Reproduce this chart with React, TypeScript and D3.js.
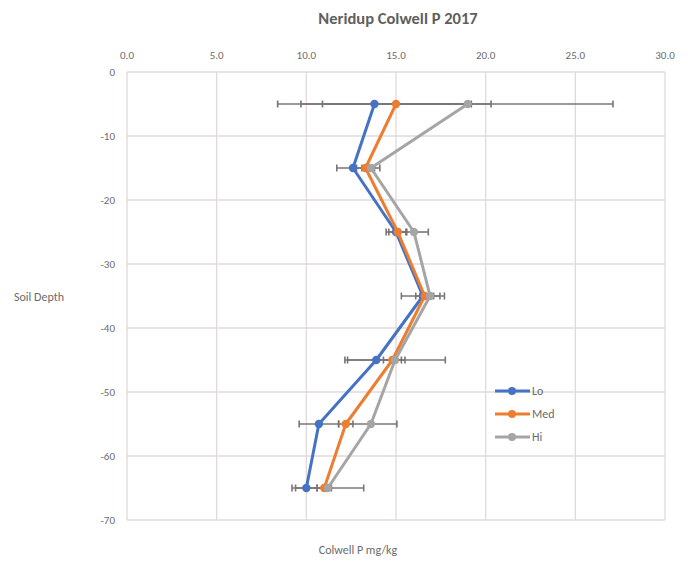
import React from "react";
import * as d3 from "d3";

// Soil depth (cm, negative downward) for each sampling layer
const depths = [-5, -15, -25, -35, -45, -55, -65];

// Colwell P (mg/kg) by treatment
const lo = [13.8, 12.6, 15.0, 16.5, 13.9, 10.7, 10.0];
const med = [15.0, 13.3, 15.1, 16.6, 14.8, 12.2, 11.0];
const hi = [19.0, 13.6, 16.0, 16.9, 14.95, 13.6, 11.2];

// Error bar half-widths
const loErr = [5.4, 0.9, 0.55, 1.2, 1.6, 1.1, 0.6];
const medErr = [5.3, 0.5, 0.5, 0.5, 0.5, 0.4, 0.4];
const hiErr = [8.1, 0.5, 0.8, 0.55, 2.8, 1.45, 2.0];

const seriesNames = ["Lo", "Med", "Hi"];
const xTicks = [0, 5, 10, 15, 20, 25, 30];
const yTicks = [0, -10, -20, -30, -40, -50, -60, -70];

const colors = ["#4472C4", "#ED7D31", "#A5A5A5"];
const font = "Carlito, Calibri, 'Open Sans', sans-serif";

export default function App() {
  const W = 698;
  const H = 563;
  const left = 127;
  const right = 665;
  const top = 72;
  const bottom = 520;

  const x = d3.scaleLinear().domain([0, 30]).range([left, right]);
  const y = d3.scaleLinear().domain([0, -70]).range([top, bottom]);

  const series = [
    { name: seriesNames[0], values: lo, err: loErr, color: colors[0] },
    { name: seriesNames[1], values: med, err: medErr, color: colors[1] },
    { name: seriesNames[2], values: hi, err: hiErr, color: colors[2] },
  ];

  const line = d3
    .line<[number, number]>()
    .x((d) => x(d[0]))
    .y((d) => y(d[1]));

  const gridColor = "#E2D9D9";
  const textColor = "#6b6b6b";
  const errColor = "#7c7474";

  return (
    <svg
      width={W}
      height={H}
      style={{ position: "absolute", left: 0, top: 0, background: "#fff" }}
    >
      <text
        x={(left + right) / 2 + 2}
        y={24}
        textAnchor="middle"
        fontFamily={font}
        fontSize={16.5}
        fontWeight={600}
        fill="#5f5f5f"
      >
        Neridup Colwell P 2017
      </text>

      {/* vertical gridlines + top axis labels */}
      {xTicks.map((t) => (
        <g key={"x" + t}>
          <line x1={x(t)} x2={x(t)} y1={top} y2={bottom} stroke={gridColor} strokeWidth={1.3} />
          <text
            x={x(t)}
            y={59}
            textAnchor="middle"
            fontFamily={font}
            fontSize={11}
            fill={textColor}
          >
            {d3.format(".1f")(t)}
          </text>
        </g>
      ))}

      {/* horizontal gridlines + depth labels */}
      {yTicks.map((t) => (
        <g key={"y" + t}>
          <line x1={left} x2={right} y1={y(t)} y2={y(t)} stroke={gridColor} strokeWidth={1.3} />
          <text
            x={115}
            y={y(t) + 4}
            textAnchor="end"
            fontFamily={font}
            fontSize={11}
            fill={textColor}
          >
            {t}
          </text>
        </g>
      ))}

      <text x={14} y={301} fontFamily={font} fontSize={12} fill={textColor}>
        Soil Depth
      </text>
      <text
        x={358}
        y={554}
        textAnchor="middle"
        fontFamily={font}
        fontSize={12}
        fill={textColor}
      >
        Colwell P mg/kg
      </text>

      {/* error bars */}
      {series.map((s) =>
        s.values.map((v, i) => {
          const yy = y(depths[i]);
          const x0 = x(v - s.err[i]);
          const x1 = x(v + s.err[i]);
          return (
            <g key={s.name + "e" + i} stroke={errColor} strokeWidth={1.6}>
              <line x1={x0} x2={x1} y1={yy} y2={yy} />
              <line x1={x0} x2={x0} y1={yy - 3.5} y2={yy + 3.5} />
              <line x1={x1} x2={x1} y1={yy - 3.5} y2={yy + 3.5} />
            </g>
          );
        })
      )}

      {/* series lines and markers */}
      {series.map((s) => {
        const pts = s.values.map((v, i) => [v, depths[i]] as [number, number]);
        return (
          <g key={s.name}>
            <path d={line(pts) || ""} fill="none" stroke={s.color} strokeWidth={3} strokeLinejoin="round" />
            {pts.map((p, i) => (
              <circle key={i} cx={x(p[0])} cy={y(p[1])} r={4.2} fill={s.color} />
            ))}
          </g>
        );
      })}

      {/* legend */}
      {series.map((s, i) => {
        const ly = 391 + i * 23;
        return (
          <g key={"lg" + s.name}>
            <line x1={495} x2={530} y1={ly} y2={ly} stroke={s.color} strokeWidth={3} />
            <circle cx={512} cy={ly} r={4} fill={s.color} />
            <text x={532} y={ly + 4} fontFamily={font} fontSize={12} fill={textColor}>
              {s.name}
            </text>
          </g>
        );
      })}
    </svg>
  );
}
